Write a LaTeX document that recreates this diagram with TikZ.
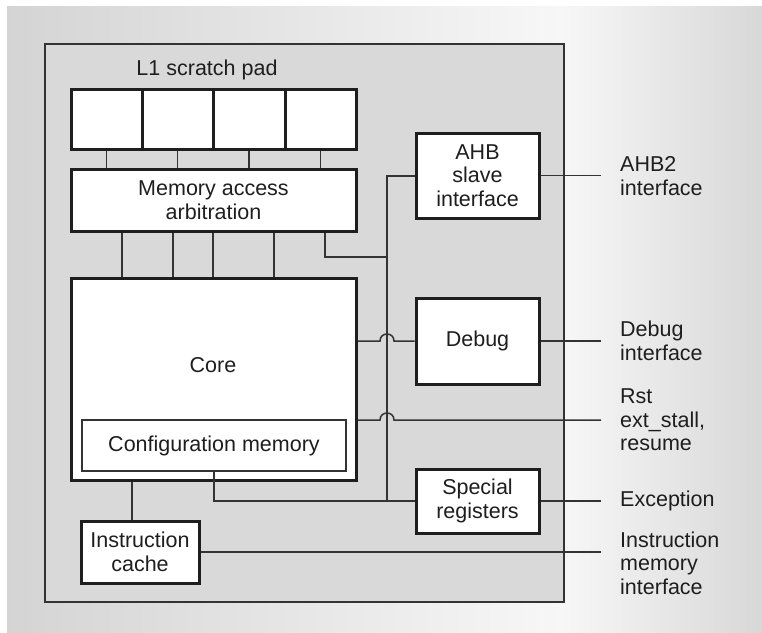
\documentclass[tikz,border=0pt]{standalone}
\usepackage{fontspec}
\setmainfont{Liberation Sans}
\usetikzlibrary{calc}
\definecolor{bgL}{HTML}{D4D4D4}
\definecolor{bgW}{HTML}{F7F7F7}
\definecolor{bgR}{HTML}{D8D8D8}
\definecolor{panelc}{HTML}{D9D9D9}
\definecolor{ink}{HTML}{1E1E1E}
\definecolor{wirec}{HTML}{333333}
\newcommand\dgfont{\fontsize{21.5}{23.5}\selectfont}
\begin{document}
\begin{tikzpicture}[x=1pt,y=-1pt,
  blk/.style={draw=ink, line width=3pt, fill=white, inner sep=0pt, align=center, font=\dgfont, text=ink},
  thinblk/.style={draw=wirec, line width=1.3pt, fill=white, inner sep=0pt, align=center, font=\dgfont, text=ink},
  wire/.style={draw=wirec, line width=1.5pt},
  lbl/.style={anchor=west, align=left, font=\dgfont, text=ink, inner sep=0pt},
  txt/.style={align=center, font=\dgfont, text=ink, inner sep=0pt}]
\useasboundingbox (0,0) rectangle (762,632);
% background
\fill[white] (0,0) rectangle (762,632);
\shade[left color=bgL, right color=bgW] (7,6) rectangle (560.5,632);
\shade[left color=bgW, right color=bgR] (560,6) rectangle (762,632);
% panel
\node[draw=wirec, fill=panelc, line width=1.5pt, minimum width=519pt, minimum height=558pt, inner sep=0pt] (panel) at (304.5,323) {};
% scratch pad
\node[txt] (sptitle) at (207,70) {L1 scratch pad};
\node[blk, minimum width=71pt, minimum height=60pt] (sp1) at (106.5,119) {};
\node[blk, minimum width=71pt, minimum height=60pt] (sp2) at (177.5,119) {};
\node[blk, minimum width=72pt, minimum height=60pt] (sp3) at (249,119) {};
\node[blk, minimum width=71pt, minimum height=60pt] (sp4) at (320.5,119) {};
% memory access arbitration
\node[blk, minimum width=285pt, minimum height=62pt] (maa) at (213.5,200) {Memory access\\arbitration};
% core
\node[blk, minimum width=285pt, minimum height=202pt] (core) at (213.5,379) {};
\node[txt] (coretxt) at (213,365) {Core};
\node[thinblk, minimum width=264pt, minimum height=51pt] (cfg) at (214,445.5) {Configuration memory};
% instruction cache
\node[blk, minimum width=118pt, minimum height=62pt] (cache) at (140,552) {Instruction\\cache};
% right blocks
\node[blk, minimum width=123pt, minimum height=85pt] (ahb) at (477.5,175.5) {AHB\\slave\\interface};
\node[blk, minimum width=123pt, minimum height=86pt] (dbg) at (477.5,341) {Debug};
\node[blk, minimum width=123pt, minimum height=64pt] (spec) at (477.5,501) {Special\\registers};
% coordinates
\coordinate (busTop) at (387,176);
\coordinate (busMid) at (387,257);
\coordinate (busBot) at (387,501);
\coordinate (edge) at (601,0);
\coordinate (rstc) at (601,420);
% scratch pad to arbitration
\foreach \s in {sp1,sp2,sp3,sp4}
  \draw[wire] (\s.south) -- (\s.south |- maa.north);
% arbitration to core
\foreach \dx in {-91.5,-40.5,-0.5,60.5}
  \draw[wire] ([xshift=\dx pt]maa.south) -- ([xshift=\dx pt]maa.south |- core.north);
\draw[wire] ([xshift=111.5pt]maa.south) |- (busMid);
% bus
\draw[wire] (ahb.west |- busTop) -- (busTop) -- (busBot);
\draw[wire] (cfg.south) |- (spec.west);
% debug line with hop
\draw[wire] (core.east |- dbg.west) -- ($(busTop |- dbg.west)+(-7,0)$)
  .. controls ($(busTop |- dbg.west)+(-7,-9.3)$) and ($(busTop |- dbg.west)+(7,-9.3)$) .. ($(busTop |- dbg.west)+(7,0)$)
  -- (dbg.west);
% reset line with hop
\draw[wire] (core.east |- rstc) -- ($(busTop |- rstc)+(-7,0)$)
  .. controls ($(busTop |- rstc)+(-7,-9.3)$) and ($(busTop |- rstc)+(7,-9.3)$) .. ($(busTop |- rstc)+(7,0)$)
  -- (rstc);
% core to cache
\draw[wire] ([xshift=-8pt]cache.north) -- ([xshift=-8pt]cache.north |- core.south);
% outgoing lines
\draw[wire] (ahb.east) -- (ahb.east -| edge);
\draw[wire] (dbg.east) -- (dbg.east -| edge);
\draw[wire] (spec.east) -- (spec.east -| edge);
\draw[wire] (cache.east) -- (cache.east -| edge);
% labels
\node[lbl] (l1) at (620,176) {AHB2\\interface};
\node[lbl] (l2) at (620,341) {Debug\\interface};
\node[lbl] (l3) at (620,420) {Rst\\ext\_stall,\\resume};
\node[lbl] (l4) at (620,501) {Exception};
\node[lbl] (l5) at (620,563) {Instruction\\memory\\interface};
\end{tikzpicture}
\end{document}
